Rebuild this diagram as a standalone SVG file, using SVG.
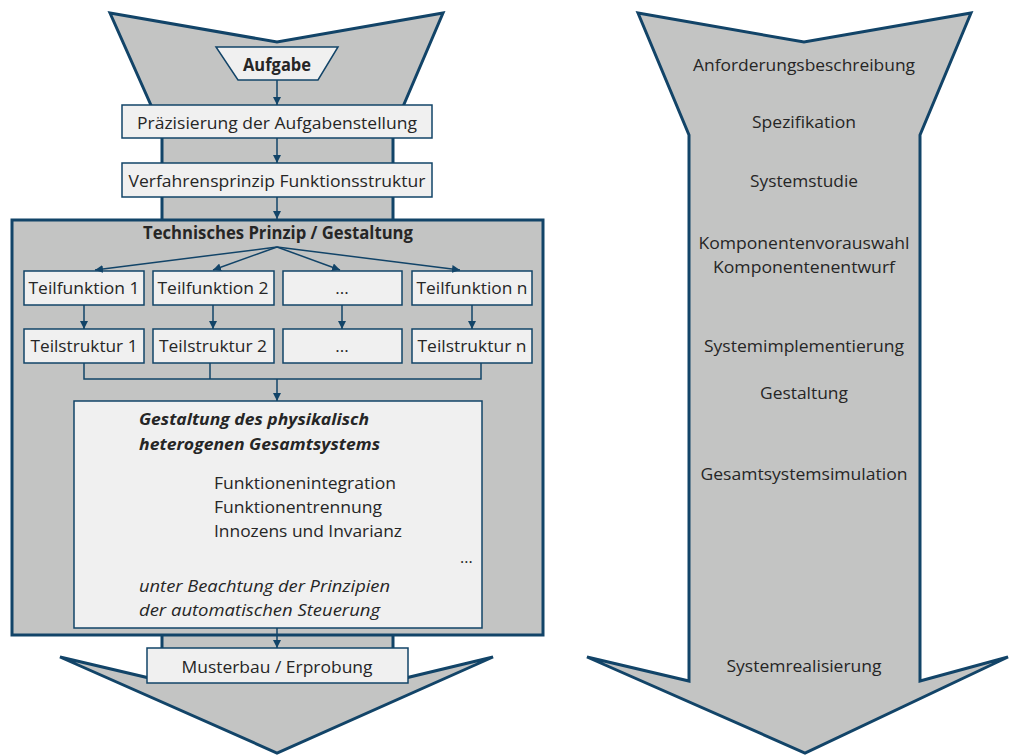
<svg xmlns="http://www.w3.org/2000/svg" width="1011" height="755" viewBox="0 0 1011 755">
  <style>
    .big { fill: #c3c4c3; stroke: #124468; stroke-width: 3; stroke-linejoin: miter; }
    .box { fill: #f0f0f0; stroke: #124468; stroke-width: 1.5; }
    .con { fill: none; stroke: #124468; stroke-width: 1.5; }
    text { font-family: "Open Sans", "Noto Sans", "DejaVu Sans", sans-serif; fill: #262626; }
    .t17 { font-size: 17px; text-anchor: middle; }
    .t16 { font-size: 16px; text-anchor: middle; }
    .in { font-size: 16px; }
    .b { font-weight: bold; }
    .i { font-style: italic; }
  </style>
  <defs>
    <marker id="ah" viewBox="0 0 10 10" refX="10" refY="5" markerWidth="8" markerHeight="8" markerUnits="userSpaceOnUse" orient="auto">
      <path d="M0,0 L10,5 L0,10 z" fill="#124468"/>
    </marker>
  </defs>

  <!-- left process arrow -->
  <g id="left-arrow">
    <polygon class="big" points="110,13 277,42 443,13 393,130 393,681 493,657 277,753 60,657 162,681 162,130"/>
  </g>

  <!-- right process arrow with phase labels -->
  <g id="right-arrow">
    <polygon class="big" points="638,13 804,42 971,13 920,135 920,681 1008,657 805,753 587,657 689,681 689,135"/>
    <text class="t16" x="804" y="71" textLength="222" lengthAdjust="spacingAndGlyphs">Anforderungsbeschreibung</text>
    <text class="t16" x="804" y="128" textLength="104" lengthAdjust="spacingAndGlyphs">Spezifikation</text>
    <text class="t16" x="804" y="187" textLength="108" lengthAdjust="spacingAndGlyphs">Systemstudie</text>
    <text class="t16" x="804" y="249" textLength="211" lengthAdjust="spacingAndGlyphs">Komponentenvorauswahl</text>
    <text class="t16" x="804" y="273" textLength="182" lengthAdjust="spacingAndGlyphs">Komponentenentwurf</text>
    <text class="t16" x="804" y="352" textLength="200" lengthAdjust="spacingAndGlyphs">Systemimplementierung</text>
    <text class="t16" x="804" y="399" textLength="88" lengthAdjust="spacingAndGlyphs">Gestaltung</text>
    <text class="t16" x="804" y="480" textLength="207" lengthAdjust="spacingAndGlyphs">Gesamtsystemsimulation</text>
    <text class="t16" x="804" y="672" textLength="155" lengthAdjust="spacingAndGlyphs">Systemrealisierung</text>
  </g>

  <!-- technical principle frame -->
  <g id="frame">
    <rect class="big" x="12" y="220" width="531" height="415"/>
    <text class="t17 b" x="278" y="239" textLength="270" lengthAdjust="spacingAndGlyphs">Technisches Prinzip / Gestaltung</text>
  </g>

  <g id="aufgabe">
    <polygon class="box" points="216,47 338,47 318,80 238,80"/>
    <text class="t17 b" x="277" y="71" textLength="68" lengthAdjust="spacingAndGlyphs">Aufgabe</text>
  </g>
  <g id="praezisierung">
    <rect class="box" x="122" y="105" width="310" height="33"/>
    <text class="t17" x="277" y="129" textLength="280" lengthAdjust="spacingAndGlyphs">Präzisierung der Aufgabenstellung</text>
  </g>
  <g id="verfahrensprinzip">
    <rect class="box" x="122" y="163" width="310" height="34"/>
    <text class="t17" x="277" y="187" textLength="297" lengthAdjust="spacingAndGlyphs">Verfahrensprinzip Funktionsstruktur</text>
  </g>

  <g id="teilfunktion-1">
    <rect class="box" x="24" y="271" width="120" height="34"/>
    <text class="t17" x="84" y="294" textLength="111" lengthAdjust="spacingAndGlyphs">Teilfunktion 1</text>
  </g>
  <g id="teilfunktion-2">
    <rect class="box" x="153" y="271" width="121" height="34"/>
    <text class="t17" x="213" y="294" textLength="111" lengthAdjust="spacingAndGlyphs">Teilfunktion 2</text>
  </g>
  <g id="teilfunktion-x">
    <rect class="box" x="283" y="271" width="119" height="34"/>
    <text class="t17" x="342" y="294">...</text>
  </g>
  <g id="teilfunktion-n">
    <rect class="box" x="412" y="271" width="120" height="34"/>
    <text class="t17" x="472" y="294" textLength="111" lengthAdjust="spacingAndGlyphs">Teilfunktion n</text>
  </g>

  <g id="teilstruktur-1">
    <rect class="box" x="24" y="329" width="120" height="34"/>
    <text class="t17" x="84" y="352" textLength="107" lengthAdjust="spacingAndGlyphs">Teilstruktur 1</text>
  </g>
  <g id="teilstruktur-2">
    <rect class="box" x="153" y="329" width="121" height="34"/>
    <text class="t17" x="213" y="352" textLength="108" lengthAdjust="spacingAndGlyphs">Teilstruktur 2</text>
  </g>
  <g id="teilstruktur-x">
    <rect class="box" x="283" y="329" width="119" height="34"/>
    <text class="t17" x="342" y="352">...</text>
  </g>
  <g id="teilstruktur-n">
    <rect class="box" x="412" y="329" width="120" height="34"/>
    <text class="t17" x="472" y="352" textLength="109" lengthAdjust="spacingAndGlyphs">Teilstruktur n</text>
  </g>

  <g id="gesamtsystem">
    <rect class="box" x="74" y="401" width="408" height="227"/>
    <text class="in b i" x="139" y="425" textLength="230" lengthAdjust="spacingAndGlyphs">Gestaltung des physikalisch</text>
    <text class="in b i" x="139" y="450" textLength="241" lengthAdjust="spacingAndGlyphs">heterogenen Gesamtsystems</text>
    <text class="in" x="214" y="489" textLength="182" lengthAdjust="spacingAndGlyphs">Funktionenintegration</text>
    <text class="in" x="214" y="513" textLength="168" lengthAdjust="spacingAndGlyphs">Funktionentrennung</text>
    <text class="in" x="214" y="537" textLength="188" lengthAdjust="spacingAndGlyphs">Innozens und Invarianz</text>
    <text class="in" x="460" y="563">...</text>
    <text class="in i" x="139" y="592" textLength="251" lengthAdjust="spacingAndGlyphs">unter Beachtung der Prinzipien</text>
    <text class="in i" x="139" y="616" textLength="241" lengthAdjust="spacingAndGlyphs">der automatischen Steuerung</text>
  </g>

  <g id="musterbau">
    <rect class="box" x="147" y="648" width="261" height="35"/>
    <text class="t17" x="277" y="673" textLength="191" lengthAdjust="spacingAndGlyphs">Musterbau / Erprobung</text>
  </g>

  <!-- connectors -->
  <g id="connectors">
    <line class="con" x1="277" y1="80" x2="277" y2="105" marker-end="url(#ah)"/>
    <line class="con" x1="277" y1="138" x2="277" y2="163" marker-end="url(#ah)"/>
    <line class="con" x1="277" y1="197" x2="277" y2="219" marker-end="url(#ah)"/>
    <line class="con" x1="277" y1="247" x2="95" y2="270" marker-end="url(#ah)"/>
    <line class="con" x1="277" y1="247" x2="213" y2="270" marker-end="url(#ah)"/>
    <line class="con" x1="277" y1="247" x2="340" y2="270" marker-end="url(#ah)"/>
    <line class="con" x1="277" y1="247" x2="460" y2="270" marker-end="url(#ah)"/>
    <line class="con" x1="84" y1="305" x2="84" y2="329" marker-end="url(#ah)"/>
    <line class="con" x1="213" y1="305" x2="213" y2="329" marker-end="url(#ah)"/>
    <line class="con" x1="342" y1="305" x2="342" y2="329" marker-end="url(#ah)"/>
    <line class="con" x1="472" y1="305" x2="472" y2="329" marker-end="url(#ah)"/>
    <path class="con" d="M84,363 V379 H481 V363 M210,363 V379"/>
    <line class="con" x1="277" y1="379" x2="277" y2="401" marker-end="url(#ah)"/>
    <line class="con" x1="277" y1="628" x2="277" y2="648" marker-end="url(#ah)"/>
  </g>
</svg>
